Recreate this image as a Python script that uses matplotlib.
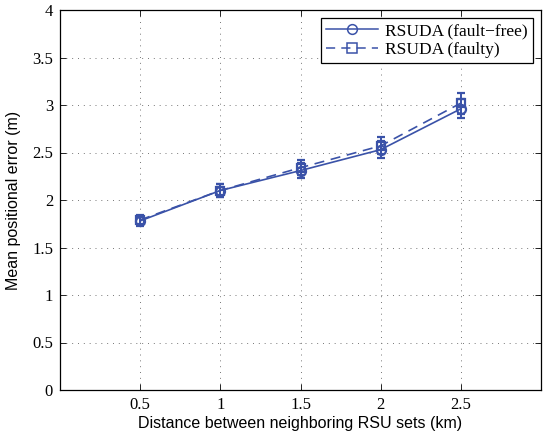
import matplotlib
matplotlib.use('Agg')
import matplotlib.pyplot as plt
from matplotlib.lines import Line2D

# distance between neighboring RSU sets (km)
dist = [0.5, 1.0, 1.5, 2.0, 2.5]
# mean positional error (m) and error bar half-widths
err_free = [1.78, 2.10, 2.31, 2.53, 2.96]
std_free = [0.05, 0.07, 0.08, 0.09, 0.10]
err_faulty = [1.79, 2.10, 2.34, 2.57, 3.02]
std_faulty = [0.05, 0.07, 0.08, 0.09, 0.11]

xticks = [0.5, 1, 1.5, 2, 2.5]
xticklabels = ['0.5', '1', '1.5', '2', '2.5']
yticks = [0, 0.5, 1, 1.5, 2, 2.5, 3, 3.5, 4]
yticklabels = ['0', '0.5', '1', '1.5', '2', '2.5', '3', '3.5', '4']

col = '#3a52a8'
dash = (0, (6, 4))

fig = plt.figure(figsize=(5.51, 4.34), dpi=100)
ax = fig.add_axes([60/551, 44/434, 481/551, 380/434])

ax.errorbar(dist, err_free, yerr=std_free, color=col, lw=1.2, marker='o',
            ms=6.5, mfc='none', mec=col, mew=1.6, capsize=3, elinewidth=1.4)
ax.errorbar(dist, err_faulty, yerr=std_faulty, color=col, lw=1.2, ls=dash,
            marker='s', ms=6, mfc='none', mec=col, mew=1.6, capsize=3,
            elinewidth=1.4)

ax.set_xlim(0, 3)
ax.set_ylim(0, 4)
ax.set_xticks(xticks)
ax.set_xticklabels(xticklabels, fontfamily='Liberation Serif', fontsize=12)
ax.set_yticks(yticks)
ax.set_yticklabels(yticklabels, fontfamily='Liberation Serif', fontsize=12)
ax.tick_params(direction='in', length=4, top=True, right=True, width=0.6, pad=5)
ax.grid(True, ls=(0, (1, 5)), color='#777777', lw=0.7)
for s in ax.spines.values():
    s.set_linewidth(0.9)

ax.set_xlabel('Distance between neighboring RSU sets (km)',
              fontfamily='Liberation Sans', fontsize=11.5, labelpad=2)
ax.set_ylabel('Mean positional error (m)', fontfamily='Liberation Sans',
              fontsize=11.5, labelpad=8)

handles = [
    Line2D([], [], color=col, lw=1.1, marker='o', ms=7, mfc='none', mew=1.1),
    Line2D([], [], color=col, lw=1.1, ls=dash, marker='s', ms=6.5, mfc='none', mew=1.1),
]
labels = ['RSUDA (fault\u2212free)', 'RSUDA (faulty)']
leg = ax.legend(handles, labels, loc='upper right',
                prop={'family': 'Liberation Serif', 'size': 12.5},
                fancybox=False, edgecolor='black', framealpha=1,
                handlelength=3.0, handletextpad=0.4, borderaxespad=0.45,
                labelspacing=0.15, borderpad=0.3)
leg.get_frame().set_linewidth(0.9)

fig.savefig('out.png', dpi=100)
